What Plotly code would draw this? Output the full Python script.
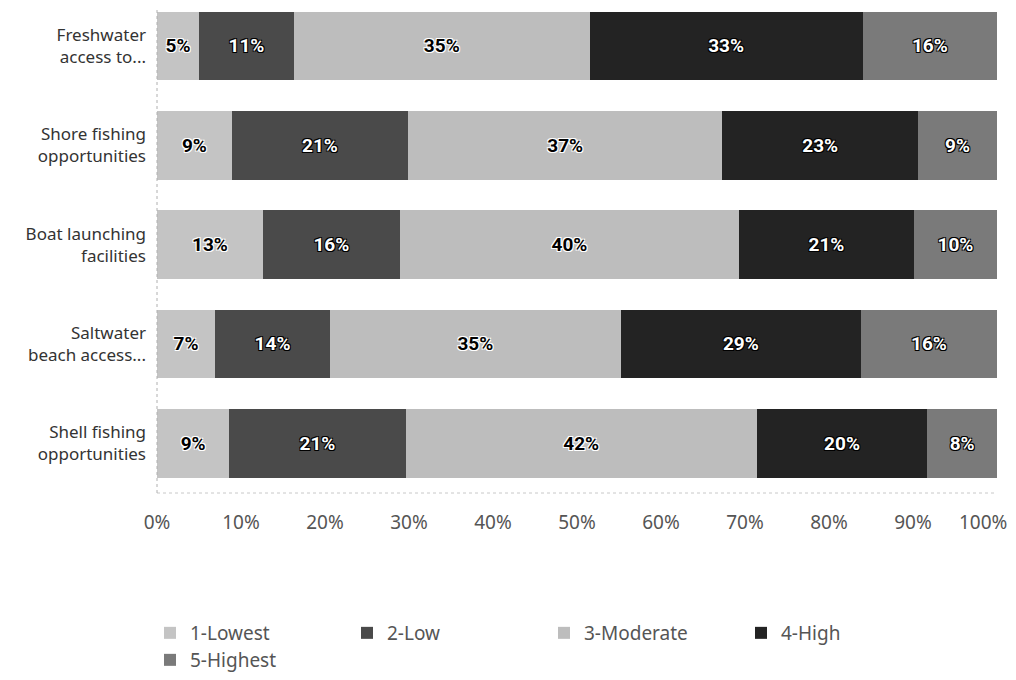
import plotly.graph_objects as go

categories = [
    "Freshwater<br>access to...",
    "Shore fishing<br>opportunities",
    "Boat launching<br>facilities",
    "Saltwater<br>beach access...",
    "Shell fishing<br>opportunities",
]
series_names = ["1-Lowest", "2-Low", "3-Moderate", "4-High", "5-Highest"]
lowest = [5.0, 8.9, 12.6, 6.9, 8.6]
low = [11.3, 21.0, 16.3, 13.7, 21.0]
moderate = [35.2, 37.4, 40.4, 34.6, 41.8]
high = [32.5, 23.3, 20.8, 28.6, 20.3]
highest = [16.0, 9.4, 9.9, 16.2, 8.3]
tick_vals = [0, 10, 20, 30, 40, 50, 60, 70, 80, 90]
tick_text = ["0%", "10%", "20%", "30%", "40%", "50%", "60%", "70%", "80%", "90%"]
end_tick_val = 100
end_tick_text = "100%"

colors = ["#c4c4c4", "#4a4a4a", "#bdbdbd", "#232323", "#7a7a7a"]
dark_text = [False, True, False, True, True]
legend_ids = ["legend", "legend", "legend", "legend", "legend2"]

white_outline = "-1px -1px 0 #fff, 1px -1px 0 #fff, -1px 1px 0 #fff, 1px 1px 0 #fff"
black_outline = "-1px -1px 0 #000, 1px -1px 0 #000, -1px 1px 0 #000, 1px 1px 0 #000"

FONT = "Noto Sans"
TICKFONT = dict(family=FONT, size=19, color="#555555")

# page body has an 8px margin: figure coordinates = page coordinates - 8
W, H = 1008, 672

fig = go.Figure()
for name, vals, col, dk, lg in zip(series_names, [lowest, low, moderate, high, highest],
                                   colors, dark_text, legend_ids):
    fig.add_trace(go.Bar(
        y=categories,
        x=vals,
        name=name,
        orientation="h",
        legend=lg,
        marker=dict(color=col, line=dict(width=0)),
        texttemplate="%{x:.0f}%",
        textposition="inside",
        insidetextanchor="middle",
        constraintext="none",
        textangle=0,
        textfont=dict(
            family="Roboto",
            size=19,
            weight="bold",
            color="#ffffff" if dk else "#000000",
            shadow=black_outline if dk else white_outline,
        ),
        hoverinfo="skip",
    ))

legend_common = dict(
    orientation="h",
    xref="container",
    yref="container",
    x=142 / W,
    xanchor="left",
    yanchor="top",
    traceorder="normal",
    entrywidth=152,
    entrywidthmode="pixels",
    font=dict(family=FONT, size=19, color="#555555"),
    bgcolor="rgba(0,0,0,0)",
)

fig.update_layout(
    barmode="stack",
    width=W,
    height=H,
    margin=dict(l=149, r=19, t=0, b=187),
    paper_bgcolor="white",
    plot_bgcolor="white",
    bargap=0.31,
    font=dict(family=FONT, color="#333333"),
    xaxis=dict(
        range=[0, 100],
        tickvals=tick_vals,
        ticktext=tick_text,
        showgrid=False,
        zeroline=False,
        showline=False,
        ticks="",
        ticklabelstandoff=16,
        tickfont=TICKFONT,
        fixedrange=True,
    ),
    yaxis=dict(
        categoryorder="array",
        categoryarray=categories,
        range=[4.5, -0.382],
        showgrid=False,
        zeroline=False,
        showline=False,
        ticks="",
        ticklabelstandoff=10,
        tickfont=dict(family=FONT, size=17, color="#333333"),
        fixedrange=True,
    ),
    legend=dict(legend_common, y=1 - 606 / H),
    legend2=dict(legend_common, y=1 - 633 / H),
    annotations=[
        dict(x=end_tick_val, xref="x", y=0, yref="paper",
             text=end_tick_text, showarrow=False, font=TICKFONT,
             xanchor="center", yanchor="middle", xshift=-14, yshift=-29),
    ],
    shapes=[
        dict(type="line", xref="paper", yref="paper", x0=0, x1=1, y0=0, y1=0,
             line=dict(color="#c8c8c8", width=1, dash="dot")),
        dict(type="line", xref="paper", yref="paper", x0=0, x1=0, y0=0, y1=1,
             line=dict(color="#b0b0b0", width=1, dash="dot")),
    ],
)

fig.write_html("out.html")
